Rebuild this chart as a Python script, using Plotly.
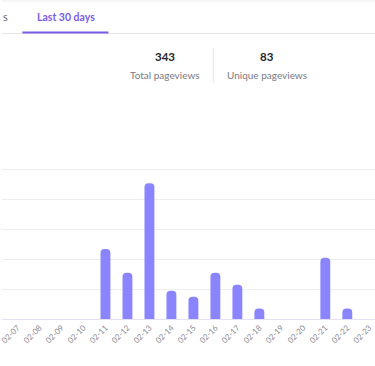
import plotly.graph_objects as go

dates = ["02-07", "02-08", "02-09", "02-10", "02-11", "02-12", "02-13", "02-14", "02-15",
         "02-16", "02-17", "02-18", "02-19", "02-20", "02-21", "02-22", "02-23"]
pageviews = [0, 0, 0, 0, 47, 31, 91, 19, 15, 31, 23, 7, 0, 0, 41, 7, 0]
y_ticks = [0, 20, 40, 60, 80, 100, 120]
total_pageviews = "343"
unique_pageviews = "83"

W, H = 375, 366
T, B = 140, 47
PH = H - T - B

def px_x(x):
    return x / W

def px_y(y):
    return (H - B - y) / PH

FONT = "Lato"

fig = go.Figure(go.Bar(
    x=dates, y=pageviews,
    marker=dict(color="#8a85ff", line=dict(width=0)),
    hoverinfo="x+y",
))

shapes = [
    dict(type="line", xref="paper", yref="paper", x0=0, x1=1, y0=px_y(1), y1=px_y(1),
         line=dict(color="#ececf0", width=1)),
    dict(type="line", xref="paper", yref="paper", x0=0, x1=1, y0=px_y(33.5), y1=px_y(33.5),
         line=dict(color="#e6e6ea", width=1)),
    dict(type="line", xref="paper", yref="paper", x0=px_x(20.5), x1=px_x(107), y0=px_y(32.5), y1=px_y(32.5),
         line=dict(color="#7b5ce6", width=2)),
    dict(type="line", xref="paper", yref="paper", x0=px_x(212.5), x1=px_x(212.5), y0=px_y(48), y1=px_y(83),
         line=dict(color="#e6e6ea", width=1)),
]

annotations = [
    dict(text="s", x=px_x(-1), y=px_y(17), xanchor="left", yanchor="middle",
         font=dict(family=FONT, size=11, color="#666670")),
    dict(text="<b>Last 30 days</b>", x=px_x(64), y=px_y(17), xanchor="center", yanchor="middle",
         font=dict(family=FONT, size=10.5, color="#7b5ce6")),
    dict(text="<b>" + total_pageviews + "</b>", x=px_x(164), y=px_y(56), xanchor="center", yanchor="middle",
         font=dict(family=FONT, size=11.5, color="#26262b")),
    dict(text="Total pageviews", x=px_x(164), y=px_y(75), xanchor="center", yanchor="middle",
         font=dict(family=FONT, size=10, color="#7a7a82")),
    dict(text="<b>" + unique_pageviews + "</b>", x=px_x(266), y=px_y(56), xanchor="center", yanchor="middle",
         font=dict(family=FONT, size=11.5, color="#26262b")),
    dict(text="Unique pageviews", x=px_x(266), y=px_y(75), xanchor="center", yanchor="middle",
         font=dict(family=FONT, size=10, color="#7a7a82")),
]
for a in annotations:
    a.update(xref="paper", yref="paper", showarrow=False)

fig.update_layout(
    width=W, height=H,
    margin=dict(l=0, r=0, t=T, b=B),
    paper_bgcolor="white", plot_bgcolor="white",
    showlegend=False,
    bargap=0.55,
    barcornerradius=4,
    shapes=shapes,
    annotations=annotations,
    font=dict(family=FONT),
)
fig.update_xaxes(
    type="category",
    range=[-0.706, 16.26],
    tickangle=-45,
    tickfont=dict(family=FONT, size=8, color="#8a8a92"),
    showgrid=False,
    showline=True, linecolor="#e2e0f2", linewidth=1,
    ticks="",
)
fig.update_yaxes(
    range=[0, 120],
    tickvals=y_ticks,
    showticklabels=False,
    showgrid=True, gridcolor="#ededf0", gridwidth=1,
    zeroline=False,
)

fig.write_html(
    "out.html",
    config={"displayModeBar": False},
    post_script="document.body.style.margin='0';document.body.style.overflow='hidden';",
)
